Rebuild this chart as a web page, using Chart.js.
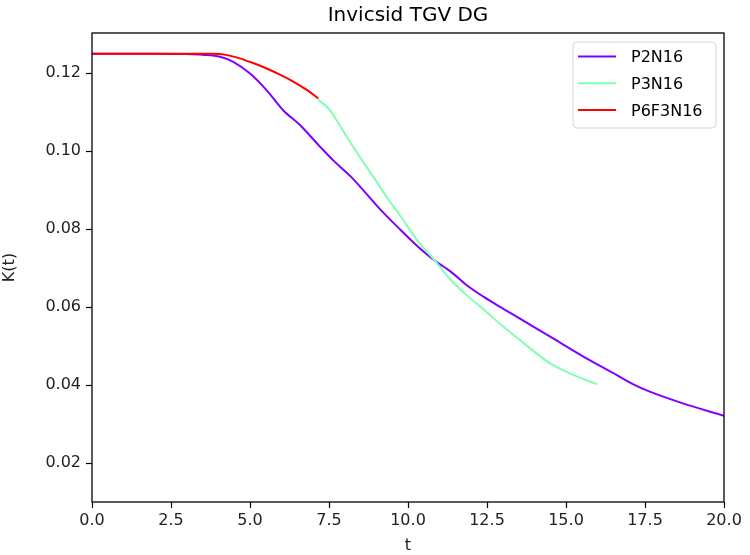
<!DOCTYPE html>
<html>
<head>
<meta charset="utf-8">
<script src="https://cdn.jsdelivr.net/npm/chart.js@4/dist/chart.umd.min.js"></script>
<style>
  html, body { margin: 0; padding: 0; background: #fff; }
  #wrap { width: 750px; height: 555px; }
</style>
</head>
<body>
<div id="wrap"><canvas id="chart" width="750" height="555"></canvas></div>
<script>
// values
const seriesLabels = ['P2N16', 'P3N16', 'P6F3N16'];
const seriesColors = ['#8000ff', '#80ffb4', '#ff0000'];

const p2T = [0, 1, 2, 3, 3.5, 4.05, 4.47, 5.0, 5.53, 6.05, 6.58, 7.22, 7.65, 8.2, 8.7, 9.15, 9.75, 10.38, 10.8, 11.35, 11.86, 12.4, 12.9, 13.45, 14.5, 15.55, 16.6, 17.1, 17.65, 18.7, 20];
const p2K = [0.125, 0.125, 0.125, 0.1249, 0.1247, 0.1242, 0.1229, 0.1199, 0.1156, 0.1105, 0.1067, 0.1011, 0.0975, 0.0934, 0.0889, 0.0848, 0.0799, 0.0750, 0.0722, 0.0691, 0.0656, 0.0626, 0.0601, 0.0575, 0.0524, 0.0473, 0.0426, 0.0403, 0.0383, 0.0353, 0.0321];

const p3T = [7.15, 7.53, 7.74, 8.06, 8.45, 9.0, 9.3, 9.75, 10.33, 10.8, 11.33, 11.86, 12.38, 12.91, 13.44, 14.49, 15.02, 15.97];
const p3K = [0.1133, 0.1105, 0.1079, 0.1037, 0.0988, 0.0922, 0.0885, 0.0835, 0.0767, 0.0724, 0.0672, 0.0630, 0.0595, 0.0557, 0.0522, 0.0456, 0.0434, 0.0402];

const p6T = [0, 1, 2, 3, 3.5, 3.8, 4.05, 4.35, 4.68, 5.1, 5.53, 5.95, 6.37, 6.8, 7.16];
const p6K = [0.125, 0.125, 0.125, 0.125, 0.125, 0.1250, 0.1249, 0.1245, 0.1238, 0.1226, 0.1212, 0.1196, 0.1178, 0.1157, 0.1135];

const xTicks = [0, 2.5, 5, 7.5, 10, 12.5, 15, 17.5, 20];
const yTicks = [0.02, 0.04, 0.06, 0.08, 0.10, 0.12];

const FONT = 'DejaVu Sans';

function toPoints(ts, ks) {
    return ts.map((t, i) => ({ x: t, y: ks[i] }));
}

// matplotlib style frame, title and legend
const mplDecor = {
    id: 'mplDecor',
    afterDraw(chart) {
        const ctx = chart.ctx;
        const a = chart.chartArea;
        ctx.save();
        ctx.strokeStyle = '#000';
        ctx.lineWidth = 1.3;
        ctx.strokeRect(a.left, a.top, a.right - a.left, a.bottom - a.top);

        // title over the axes
        ctx.fillStyle = '#000';
        ctx.font = '20px ' + FONT;
        ctx.textAlign = 'center';
        ctx.textBaseline = 'middle';
        ctx.fillText('Invicsid TGV DG', (a.left + a.right) / 2, 16);

        // legend
        const bx = 573, by = 42, bw = 143, bh = 86;
        ctx.globalAlpha = 0.8;
        ctx.fillStyle = '#fff';
        ctx.beginPath();
        ctx.roundRect(bx, by, bw, bh, 4);
        ctx.fill();
        ctx.globalAlpha = 1;
        ctx.strokeStyle = '#d6d6d6';
        ctx.lineWidth = 1;
        ctx.stroke();
        ctx.font = '16px ' + FONT;
        ctx.textAlign = 'left';
        seriesLabels.forEach((lab, i) => {
            const y = 56.5 + i * 26.8;
            ctx.strokeStyle = seriesColors[i];
            ctx.lineWidth = 2;
            ctx.beginPath();
            ctx.moveTo(578, y);
            ctx.lineTo(616, y);
            ctx.stroke();
            ctx.fillStyle = '#000';
            ctx.fillText(lab, 631, y + 1.5);
        });
        ctx.restore();
    }
};

new Chart(document.getElementById('chart'), {
    type: 'line',
    data: {
        datasets: [
            { label: seriesLabels[0], data: toPoints(p2T, p2K), borderColor: seriesColors[0], order: 3 },
            { label: seriesLabels[1], data: toPoints(p3T, p3K), borderColor: seriesColors[1], order: 2 },
            { label: seriesLabels[2], data: toPoints(p6T, p6K), borderColor: seriesColors[2], order: 1 }
        ]
    },
    options: {
        responsive: false,
        animation: false,
        layout: { padding: { top: 33, right: 26, left: 0, bottom: 0 } },
        elements: {
            point: { radius: 0 },
            line: { borderWidth: 2, cubicInterpolationMode: 'monotone', fill: false }
        },
        plugins: {
            legend: { display: false },
            title: { display: false },
            tooltip: { enabled: false }
        },
        scales: {
            x: {
                type: 'linear',
                min: 0,
                max: 20,
                afterBuildTicks: s => { s.ticks = xTicks.map(v => ({ value: v })); },
                afterFit: s => { s.height = 53; },
                grid: { drawOnChartArea: false, drawTicks: true, tickLength: 6, tickColor: '#000', tickWidth: 1.2 },
                border: { display: false },
                ticks: { color: '#222', font: { family: FONT, size: 16 }, padding: 3, maxRotation: 0,
                    callback: v => v.toFixed(1) },
                title: { display: true, text: 't', color: '#222', font: { family: FONT, size: 16 }, padding: { top: 0, bottom: 0 } }
            },
            y: {
                type: 'linear',
                min: 0.01,
                max: 0.1303,
                afterBuildTicks: s => { s.ticks = yTicks.map(v => ({ value: v })); },
                afterFit: s => { s.width = 92; },
                grid: { drawOnChartArea: false, drawTicks: true, tickLength: 6, tickColor: '#000', tickWidth: 1.2 },
                border: { display: false },
                ticks: { color: '#222', font: { family: FONT, size: 16 }, padding: 5,
                    callback: v => v.toFixed(2) },
                title: { display: true, text: 'K(t)', color: '#222', font: { family: FONT, size: 16 }, padding: { top: 0, bottom: 0 } }
            }
        }
    },
    plugins: [mplDecor]
});
</script>
</body>
</html>
